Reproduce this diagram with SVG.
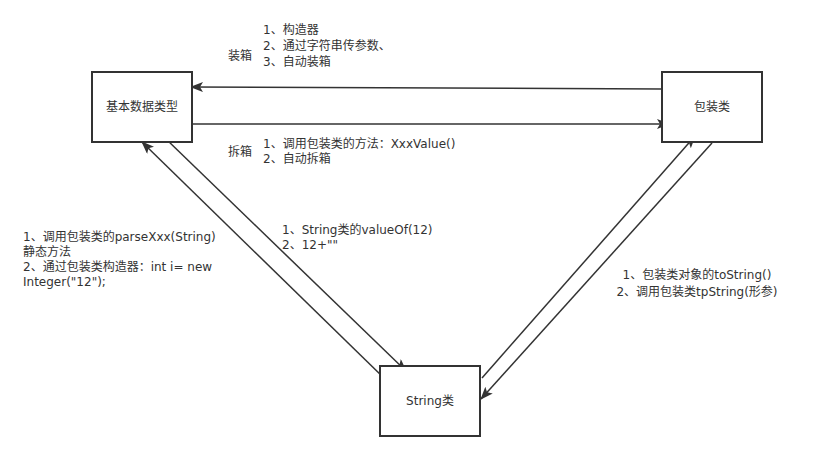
<svg xmlns="http://www.w3.org/2000/svg" width="813" height="462" viewBox="0 0 813 462">
<style>
.box{fill:#fff;stroke:#333;stroke-width:2}
.ln{stroke:#333;stroke-width:1.5;fill:none;marker-end:url(#ah)}
text{font-family:"DejaVu Sans","Noto Sans CJK SC",sans-serif;font-size:12px;fill:#333}
.c{text-anchor:middle}
</style>
<defs>
<marker id="ah" markerWidth="13" markerHeight="10" refX="12" refY="5" orient="auto" markerUnits="userSpaceOnUse">
<path d="M0,0 L13,5 L0,10 L3,5 Z" fill="#333"/>
</marker>
</defs>
<rect width="813" height="462" fill="#fff"/>
<g id="connectors">
<line class="ln" x1="662" y1="89" x2="191" y2="87"/>
<line class="ln" x1="192" y1="124" x2="669" y2="124"/>
<line class="ln" x1="385" y1="379" x2="142" y2="142"/>
<line class="ln" x1="166" y1="139" x2="406" y2="371"/>
<line class="ln" x1="712" y1="143" x2="481" y2="399"/>
<line class="ln" x1="482" y1="378" x2="695" y2="136"/>
</g>
<g id="node-basic">
<rect class="box" x="92" y="72" width="100" height="70"/>
<text class="c" x="142" y="111">基本数据类型</text>
</g>
<g id="node-wrapper">
<rect class="box" x="662" y="72" width="100" height="70"/>
<text class="c" x="712" y="111">包装类</text>
</g>
<g id="node-string">
<rect class="box" x="380" y="366" width="100" height="70"/>
<text class="c" x="430" y="405">String类</text>
</g>
<g id="labels">
<text x="228" y="60">装箱</text>
<text x="263" y="34">1、构造器</text>
<text x="263" y="50">2、通过字符串传参数、</text>
<text x="263" y="66">3、自动装箱</text>
<text x="228" y="156">拆箱</text>
<text x="263" y="148">1、调用包装类的方法：XxxValue()</text>
<text x="263" y="163">2、自动拆箱</text>
<text x="23" y="241">1、调用包装类的parseXxx(String)</text>
<text x="23" y="256">静态方法</text>
<text x="23" y="271">2、通过包装类构造器：int i= new</text>
<text x="23" y="286">Integer("12");</text>
<text x="282" y="234">1、String类的valueOf(12)</text>
<text x="282" y="249">2、12+""</text>
<text class="c" x="697" y="279">1、包装类对象的toString()</text>
<text class="c" x="697" y="296">2、调用包装类tpString(形参)</text>
</g>
</svg>
